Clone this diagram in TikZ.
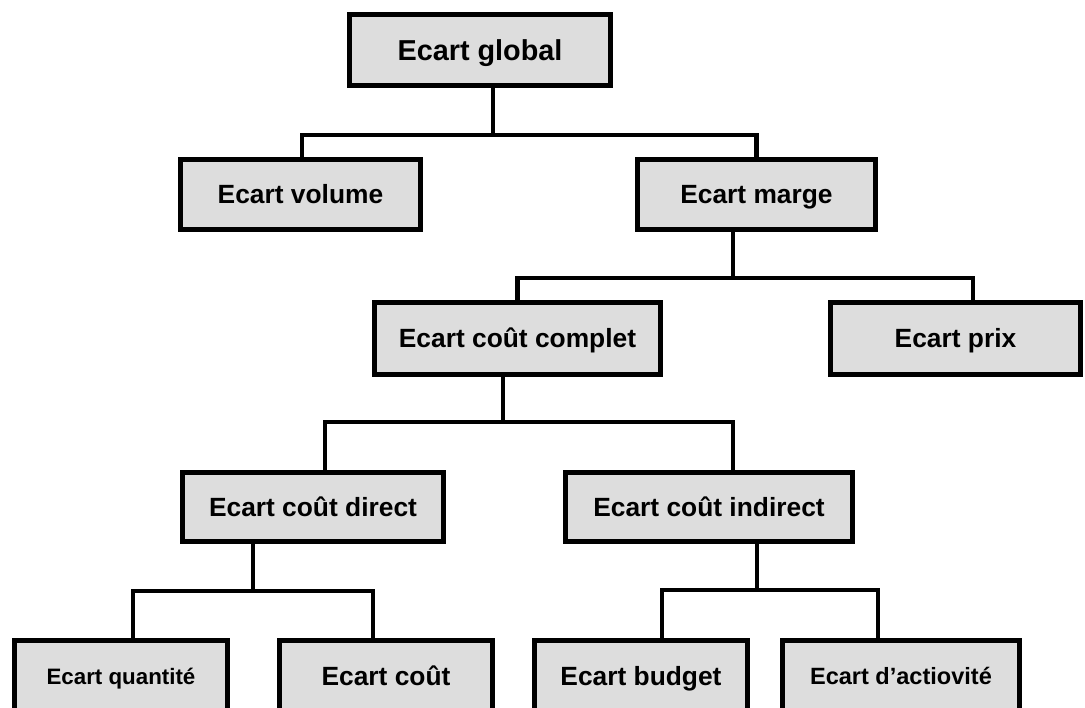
\documentclass[tikz,border=0pt]{standalone}
\usepackage{fontspec}
\setmainfont{Liberation Sans}
\usetikzlibrary{calc}
\definecolor{boxgray}{RGB}{221,221,221}

\begin{document}
\begin{tikzpicture}[x=0.02cm,y=-0.02cm,
      every node/.style={draw,line width=2.85pt,fill=boxgray,inner sep=0pt,
        minimum height=1.42cm,text height=10.7pt,text depth=0pt,
        font=\fontsize{15}{18}\selectfont\bfseries,align=center},
      link/.style={line width=2.6pt}]
      \clip (0,0) rectangle (1085,707);
      % boxes
      \node[minimum width=5.22cm,text height=11.7pt,font=\fontsize{16.4}{19}\selectfont\bfseries] (global) at (480,50) {Ecart global};
      \node[minimum width=4.80cm,minimum height=1.40cm] (volume) at (300.5,194.5) {Ecart volume};
      \node[minimum width=4.76cm,minimum height=1.40cm] (marge) at (756.5,194.5) {Ecart marge};
      \node[minimum width=5.72cm,minimum height=1.44cm] (complet) at (517.5,338.5) {Ecart coût complet};
      \node[minimum width=5.00cm,minimum height=1.44cm] (prix) at (955.5,338.5) {Ecart prix};
      \node[minimum width=5.22cm,minimum height=1.38cm] (direct) at (313,507) {Ecart coût direct};
      \node[minimum width=5.74cm,minimum height=1.38cm] (indirect) at (709,507) {Ecart coût indirect};
      \node[minimum width=4.26cm,text height=9.1pt,font=\fontsize{12.7}{15}\selectfont\bfseries] (quant) at (121,676) {Ecart quantité};
      \node[minimum width=4.26cm] (cout) at (386,676) {Ecart coût};
      \node[minimum width=4.26cm] (budget) at (641,676) {Ecart budget};
      \node[minimum width=4.74cm,text height=9.6pt,font=\fontsize{13.4}{16}\selectfont\bfseries] (activ) at (901,676) {Ecart d’actiovité};
      % branch points
      \coordinate (b1) at (493,135);
      \coordinate (b2) at (733,278);
      \coordinate (b3) at (503,422);
      \coordinate (b4) at (253,591);
      \coordinate (b5) at (757,590);
      % connectors
      \draw[link] (b1 |- global.south) -- (b1);
      \draw[link] ($(volume.north)+(1.5,0)$) |- (b1) -| (marge.north);
      \draw[link] (b2 |- marge.south) -- (b2);
      \draw[link] (complet.north) |- (b2) -| ($(prix.north)+(17.5,0)$);
      \draw[link] (b3 |- complet.south) -- (b3);
      \draw[link] ($(direct.north)+(12,0)$) |- (b3) -| ($(indirect.north)+(24,0)$);
      \draw[link] (b4 |- direct.south) -- (b4);
      \draw[link] ($(quant.north)+(12,0)$) |- (b4) -| ($(cout.north)+(-13,0)$);
      \draw[link] (b5 |- indirect.south) -- (b5);
      \draw[link] ($(budget.north)+(21,0)$) |- (b5) -| ($(activ.north)+(-23,0)$);
\end{tikzpicture}
\end{document}
